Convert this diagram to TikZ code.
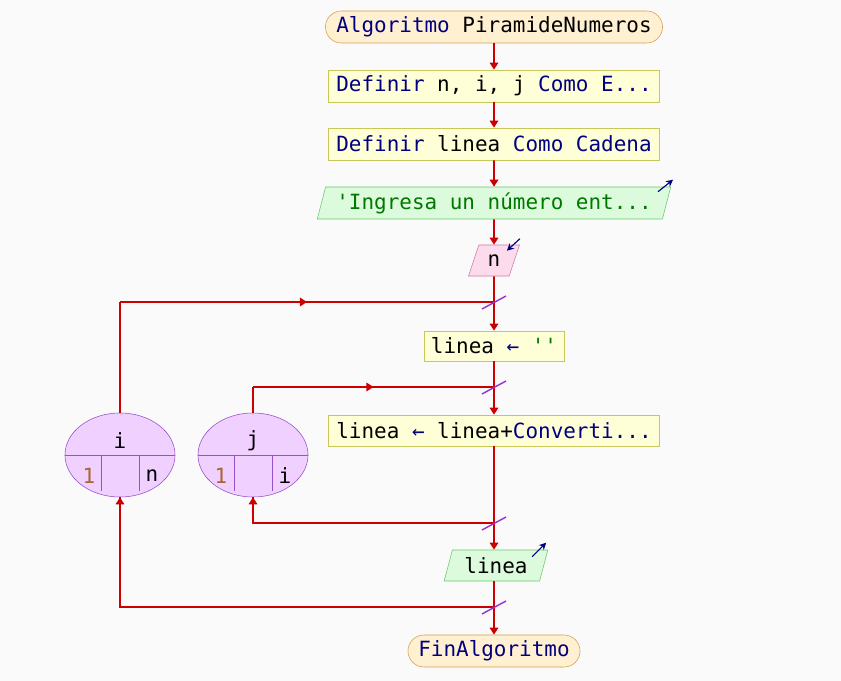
\documentclass[tikz,border=0pt]{standalone}
\usepackage{fontspec}
\setmonofont{DejaVu Sans Mono}
\usepackage{xcolor}
\usepackage{tikz}
\usetikzlibrary{positioning,arrows.meta,shapes.geometric,calc,decorations.markings}
\definecolor{bgray}{RGB}{250,250,250}
\definecolor{flowred}{RGB}{204,0,0}
\definecolor{kwblue}{RGB}{0,0,128}
\definecolor{strgreen}{RGB}{0,120,0}
\definecolor{numbrown}{RGB}{170,100,50}
\definecolor{slashpurple}{RGB}{150,50,210}
\definecolor{termfill}{RGB}{255,240,210}
\definecolor{termdraw}{RGB}{215,160,80}
\definecolor{procfill}{RGB}{255,255,215}
\definecolor{procdraw}{RGB}{200,200,90}
\definecolor{outfill}{RGB}{220,250,220}
\definecolor{outdraw}{RGB}{110,200,110}
\definecolor{infill}{RGB}{252,220,236}
\definecolor{indraw}{RGB}{210,120,165}
\definecolor{loopfill}{RGB}{240,208,255}
\definecolor{loopdraw}{RGB}{150,80,200}

\newcommand{\kw}[1]{\textcolor{kwblue}{#1}}

\tikzset{
  every node/.style={font=\ttfamily\fontsize{14.9pt}{17pt}\selectfont, inner sep=0pt},
  termbox/.style={draw=termdraw, fill=termfill, rounded corners=0.4cm, minimum height=0.8cm},
  procbox/.style={draw=procdraw, fill=procfill, minimum height=0.8cm},
  outbox/.style={draw=outdraw, fill=outfill, trapezium, trapezium left angle=70,
    trapezium right angle=110, trapezium stretches=true, minimum height=0.8cm},
  inbox/.style={outbox, draw=indraw, fill=infill},
  loopbox/.style={draw=loopdraw, fill=loopfill, ellipse, minimum width=2.75cm, minimum height=2.1cm},
  flow/.style={draw=flowred, line width=1.3pt, -{Triangle[length=5pt,width=6pt]}},
  plainflow/.style={draw=flowred, line width=1.3pt},
  midarrow/.style={postaction={decorate}, decoration={markings,
    mark=at position 0.5 with {\arrow[flowred]{Triangle[length=5pt,width=6pt]}}}},
  slash/.style={draw=slashpurple, line width=1pt},
  cornerarrow/.style={draw=kwblue, line width=0.8pt, -{Stealth[length=5pt,width=5pt]}},
  cell/.style={draw=loopdraw, line width=0.6pt}
}

\begin{document}
\begin{tikzpicture}[x=0.025cm, y=-0.025cm]
  \fill[bgray] (0,0) rectangle (841,681);
  \useasboundingbox (0,0) rectangle (841,681);

  \node[termbox, minimum width=8.425cm] (start) at (494,27) {\kw{Algoritmo} PiramideNumeros};
  \node[procbox, minimum width=8.275cm] (def1) at (494,86) {\kw{Definir} n, i, j \kw{Como} \kw{E...}};
  \node[procbox, minimum width=8.275cm] (def2) at (494,144) {\kw{Definir} linea \kw{Como} \kw{Cadena}};
  \node[outbox, minimum width=8.85cm] (out1) at (494,203) {\textcolor{strgreen}{'Ingresa un número ent...}};
  \node[inbox, minimum width=1.275cm, minimum height=0.775cm] (readn) at (494,260.5) {n};
  \node[procbox, minimum width=3.5cm, minimum height=0.75cm] (lin1) at (494,346) {linea \kw{←} \textcolor{strgreen}{''}};
  \node[procbox, minimum width=8.275cm, minimum height=0.775cm] (lin2) at (494,430.5) {linea \kw{←} linea+\kw{Converti...}};
  \node[outbox, minimum width=2.6cm, minimum height=0.775cm] (out2) at (496,565.5) {linea};
  \node[termbox, minimum width=4.3cm] (fin) at (494,651) {\kw{FinAlgoritmo}};

  \node[loopbox] (loopi) at (120,455) {};
  \node[loopbox] (loopj) at (253,455) {};
  \draw[cell] (loopi.west) -- (loopi.east);
  \draw[cell] ($(loopi.center)+(-19,0)$) -- ++(0,36);
  \draw[cell] ($(loopi.center)+(19,0)$) -- ++(0,36);
  \draw[cell] (loopj.west) -- (loopj.east);
  \draw[cell] ($(loopj.center)+(-19,0)$) -- ++(0,36);
  \draw[cell] ($(loopj.center)+(19,0)$) -- ++(0,36);
  \node (ivar) at (120,441) {i};
  \node (ifrom) at (89,476) {\textcolor{numbrown}{1}};
  \node (ito) at (152,476) {n};
  \node (jvar) at (253,441) {j};
  \node (jfrom) at (221,476) {\textcolor{numbrown}{1}};
  \node (jto) at (285,476) {i};

  \coordinate (jn1) at (494,302);
  \coordinate (jn2) at (494,387);
  \coordinate (jn3) at (494,523);
  \coordinate (jn4) at (494,607);

  \draw[flow] (start) -- (def1);
  \draw[flow] (def1) -- (def2);
  \draw[flow] (def2) -- (out1);
  \draw[flow] (out1.south -| readn) -- (readn);
  \draw[flow] (readn) -- (lin1);
  \draw[flow] (lin1) -- (lin2);
  \draw[flow] (lin2.south -| jn3) -- (out2.north -| jn3);
  \draw[flow] (out2.south -| jn4) -- (fin);

  \draw[plainflow] (loopi.north) -- (loopi.north |- jn1);
  \draw[plainflow, midarrow] (loopi.north |- jn1) -- (jn1);
  \draw[plainflow] (jn4) -| (loopi.south);
  \draw[flow] (loopi.south |- jn4) -- (loopi.south);
  \draw[plainflow] (loopj.north) -- (loopj.north |- jn2);
  \draw[plainflow, midarrow] (loopj.north |- jn2) -- (jn2);
  \draw[plainflow] (jn3) -| (loopj.south);
  \draw[flow] (loopj.south |- jn3) -- (loopj.south);

  \foreach \j in {jn1,jn2,jn3,jn4}
    \draw[slash] ($(\j)+(-12,7)$) -- ($(\j)+(12,-6)$);

  \draw[cornerarrow] ($(out1.top right corner)+(-13,5)$) -- ++(15,-12);
  \draw[cornerarrow] ($(readn.top right corner)+(0,-6)$) -- ++(-13,12);
  \draw[cornerarrow] ($(out2.top right corner)+(-16,7)$) -- ++(14,-14);
\end{tikzpicture}
\end{document}
